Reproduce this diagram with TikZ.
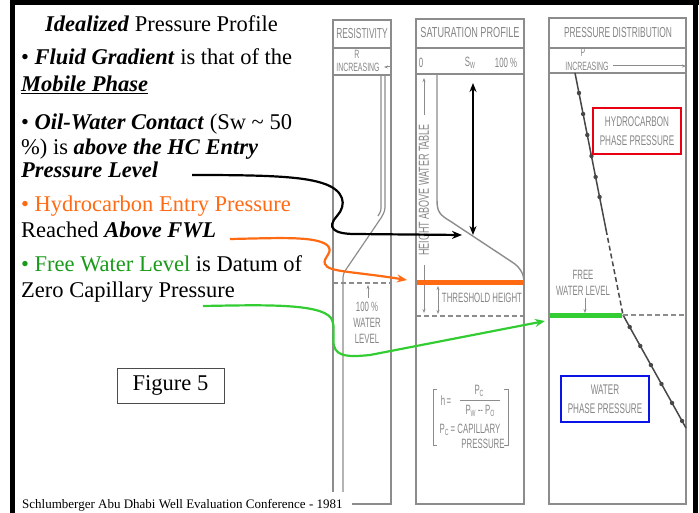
\documentclass[tikz,border=0pt]{standalone}
\usepackage{fontspec}
\setmainfont{Liberation Serif}
\newfontfamily\graysans{Liberation Sans}
\usepackage{graphicx}
\usetikzlibrary{arrows.meta}
\definecolor{lgray}{HTML}{8C8C8C}
\definecolor{tgray}{HTML}{858585}
\definecolor{dgray}{HTML}{474747}
\definecolor{myorange}{HTML}{FF6A13}
\definecolor{mygreen}{HTML}{1A9A1A}
\definecolor{brgreen}{HTML}{33CC33}
\definecolor{myred}{HTML}{E60012}
\definecolor{myblue}{HTML}{0A14E6}
\newcommand\nar[1]{\scalebox{0.58}[1]{#1}}
\newcommand\sub[1]{\raisebox{-2pt}{\fontsize{9}{9}\selectfont #1}}
\begin{document}
\begin{tikzpicture}[x=1pt,y=-1pt,
  colbox/.style={draw=lgray,line width=1.4pt},
  glbl/.style={text=tgray,font=\graysans\fontsize{13.5}{16}\selectfont,inner sep=0pt,align=center},
  hdr/.style={glbl,font=\graysans\fontsize{14.5}{16}\selectfont},
  sml/.style={glbl,font=\graysans\fontsize{12}{13}\selectfont},
  body/.style={font=\fontsize{22.5}{27}\selectfont,anchor=base west,inner sep=0pt},
  conn/.style={line width=2.2pt,-{Stealth[length=10pt,width=8pt]}},
  smallarr/.style={draw=lgray,line width=1pt,-{Stealth[length=4pt,width=3pt]}},
  gdash/.style={draw=lgray,line width=1.3pt,dash pattern=on 5pt off 3pt},
  plot/.style={draw=dgray,line width=1.5pt},
  dot/.style={fill=dgray}
]
\useasboundingbox (0,0) rectangle (699,513);
% outer frame
\draw[line width=5pt] (10,3) -- (699,3);
\draw[line width=4.5pt] (12.5,0) -- (12.5,513);
\draw[line width=5pt] (695.5,0) -- (695.5,513);

% ---------- columns ----------
\draw[colbox] (333,20) rectangle (391,504);
\draw[colbox] (333,48) -- (391,48) (333,75) -- (391,75);
\draw[colbox] (416,19) rectangle (524,504);
\draw[colbox] (416,48) -- (524,48) (416,74) -- (524,74);
\draw[colbox] (549,18) rectangle (686,504);
\draw[colbox] (549,48) -- (686,48) (549,73) -- (686,73);

% headers
\node[hdr] (hres) at (362,34) {\nar{RESISTIVITY}};
\node[hdr] (hsat) at (470,33) {\scalebox{0.63}[1]{SATURATION PROFILE}};
\node[hdr] (hpre) at (618,33) {\nar{PRESSURE DISTRIBUTION}};
\node[sml] (rR) at (357,54) {\nar{R}};
\node[sml] (rinc) at (358,67) {\nar{INCREASING}};
\coordinate (ra1) at (391,67); \coordinate (ra2) at (384,67);
\draw[smallarr] (ra1) -- (ra2);
\node[glbl] (s0) at (421,63) {\nar{0}};
\node[glbl] (ssw) at (470,63) {\nar{S\sub{W}}};
\node[glbl] (s100) at (506,63) {\nar{100 \%}};
\node[sml] (pP) at (583,52) {\nar{P}};
\node[sml] (pinc) at (587,66) {\nar{INCREASING}};
\coordinate (pa1) at (613,66); \coordinate (pa2) at (686,66);
\draw[smallarr] (pa1) -- (pa2);

% resistivity curve
\draw[draw=lgray,line width=1.2pt] (385,75) -- (385,203) .. controls (385,211) .. (381,218) -- (347,268) .. controls (343,274) .. (343,282) -- (343,504);
\draw[draw=lgray,line width=1.2pt] (381,75) -- (381,205) .. controls (381,211) .. (378,216);
\draw[gdash] (333,283) -- (391,283);
\coordinate (wl1) at (368,298); \coordinate (wl2) at (368,285);
\draw[smallarr] (wl1) -- (wl2);
\node[glbl] (wlev) at (367,323) {\nar{100 \%}\\\nar{WATER}\\\nar{LEVEL}};

% saturation profile
\draw[draw=lgray,line width=1.4pt] (437,74) -- (437,200) .. controls (437,212) and (440,215) .. (450,221) -- (512,262) .. controls (520,267) and (524,274) .. (524,282);
\node[hdr,rotate=90] (hawt) at (424,190) {\scalebox{0.62}[1]{HEIGHT ABOVE WATER TABLE}};
\coordinate (hu1) at (424,115); \coordinate (hu2) at (424,78);
\coordinate (hd1) at (424,265); \coordinate (hd2) at (424,313);
\draw[smallarr] (hu1) -- (hu2);
\draw[smallarr] (hd1) -- (hd2);
\draw[gdash] (416,316) -- (524,316);
\coordinate (th1) at (438,286); \coordinate (th2) at (438,314);
\draw[draw=lgray,line width=1pt,{Stealth[length=4pt,width=3pt]}-{Stealth[length=4pt,width=3pt]}] (th1) -- (th2);
\node[glbl] (thr) at (482,298) {\nar{THRESHOLD HEIGHT}};
\draw[myorange,line width=5pt] (417,282) -- (524,282);
% formula
\draw[draw=lgray,line width=1pt] (437,389) -- (433,389) -- (433,445) -- (437,445);
\draw[draw=lgray,line width=1pt] (504,389) -- (508,389) -- (508,445) -- (504,445);
\node[glbl] (fh) at (446,401) {\nar{h\,=}};
\node[glbl] (fpc) at (479,391) {\nar{P\sub{C}}};
\draw[draw=lgray,line width=0.8pt] (460,400) -- (500,400);
\node[glbl] (fpw) at (480,411) {\nar{P\sub{W} -- P\sub{O}}};
\node[glbl] (fcap) at (470,430) {\nar{P\sub{C} = CAPILLARY}};
\node[glbl] (fpres) at (483,444) {\nar{PRESSURE}};
% black double arrow
\coordinate (da1) at (473,83); \coordinate (da2) at (473,235);
\draw[line width=2pt,{Stealth[length=9pt,width=7pt]}-{Stealth[length=9pt,width=7pt]}] (da1) -- (da2);

% pressure distribution
\draw[plot] (575,73) -- (606.1,230);
\draw[plot,dash pattern=on 5pt off 3pt] (606.1,230) -- (623,315);
\draw[plot] (623,315) -- (686,428);
\foreach \yy in {93,114,135,156,177,197}
  \fill[dot] ({575+(\yy-73)*0.1983},\yy) circle (2.2);
\foreach \yy in {327,346,365,384,403,421}
  \fill[dot] ({623+(\yy-315)*0.5575},\yy) circle (2.2);
\draw[brgreen,line width=5pt] (549,315) -- (622,315);
\draw[gdash] (623,315) -- (686,315);
\node[glbl] (fwl) at (583,283) {\nar{FREE}\\\nar{WATER LEVEL}};
\coordinate (fa1) at (585,298); \coordinate (fa2) at (585,313);
\draw[smallarr] (fa1) -- (fa2);
\node[glbl,font=\graysans\fontsize{14}{19}\selectfont,draw=myred,line width=2.5pt,minimum width=88pt,minimum height=46pt] (hcbox) at (637,131) {\nar{HYDROCARBON}\\\nar{PHASE PRESSURE}};
\node[glbl,font=\graysans\fontsize{14}{19}\selectfont,draw=myblue,line width=2.5pt,minimum width=88pt,minimum height=46pt] (wbox) at (605,399) {\nar{WATER}\\\nar{PHASE PRESSURE}};

% ---------- left text ----------
\node[body] (t1) at (45,32) {\textbf{\textit{Idealized}} Pressure Profile};
\node[body] (t2) at (21,65) {• \textbf{\textit{Fluid Gradient}} is that of the};
\node[body] (t3) at (21,92) {\underline{\textbf{\textit{Mobile Phase}}}};
\node[body] (t4) at (21,130) {• \textbf{\textit{Oil-Water Contact}} (Sw \textasciitilde{} 50};
\node[body] (t5) at (21,155) {\%) is \textbf{\textit{above the HC Entry}}};
\node[body] (t6) at (21,178) {\textbf{\textit{Pressure Level}}};
\node[body,text=myorange] (t7) at (21,212) {• Hydrocarbon Entry Pressure};
\node[body] (t8) at (21,238) {Reached \textbf{\textit{Above FWL}}};
\node[body] (t9) at (21,272) {\textcolor{mygreen}{• Free Water Level} is Datum of};
\node[body] (t10) at (21,298) {Zero Capillary Pressure};

\node[draw=black!70,line width=0.8pt,minimum width=107pt,minimum height=35pt,inner sep=0pt,font=\fontsize{22.5}{27}\selectfont] (fig) at (170.5,385.5) {Figure 5};
\fill[white] (16,492) rectangle (352,513);
\node[font=\fontsize{13}{15}\selectfont,anchor=base west,inner sep=0pt] (src) at (22,508) {Schlumberger Abu Dhabi Well Evaluation Conference - 1981};

% ---------- connectors ----------
\coordinate (bk0) at (192,175);
\coordinate (bk1) at (462,235);
\draw[conn,black] (bk0) .. controls (260,175) and (300,176) .. (322,183) .. controls (345,190) and (347,205) .. (337,216) .. controls (326,228) and (334,234) .. (355,234) -- (bk1);
\coordinate (or0) at (230,239);
\coordinate (or1) at (407,280);
\draw[conn,myorange] (or0) .. controls (280,238) and (315,236) .. (327,245) .. controls (335,252) and (322,258) .. (325,264) .. controls (328,272) and (350,271) .. (or1);
\coordinate (gr0) at (203,306);
\coordinate (gr1) at (545,321);
\draw[conn,brgreen] (gr0) .. controls (260,305) and (320,303) .. (331,318) .. controls (336,326) and (332,338) .. (334,346) .. controls (337,357) and (350,357) .. (370,355) -- (gr1);
\end{tikzpicture}
\end{document}
